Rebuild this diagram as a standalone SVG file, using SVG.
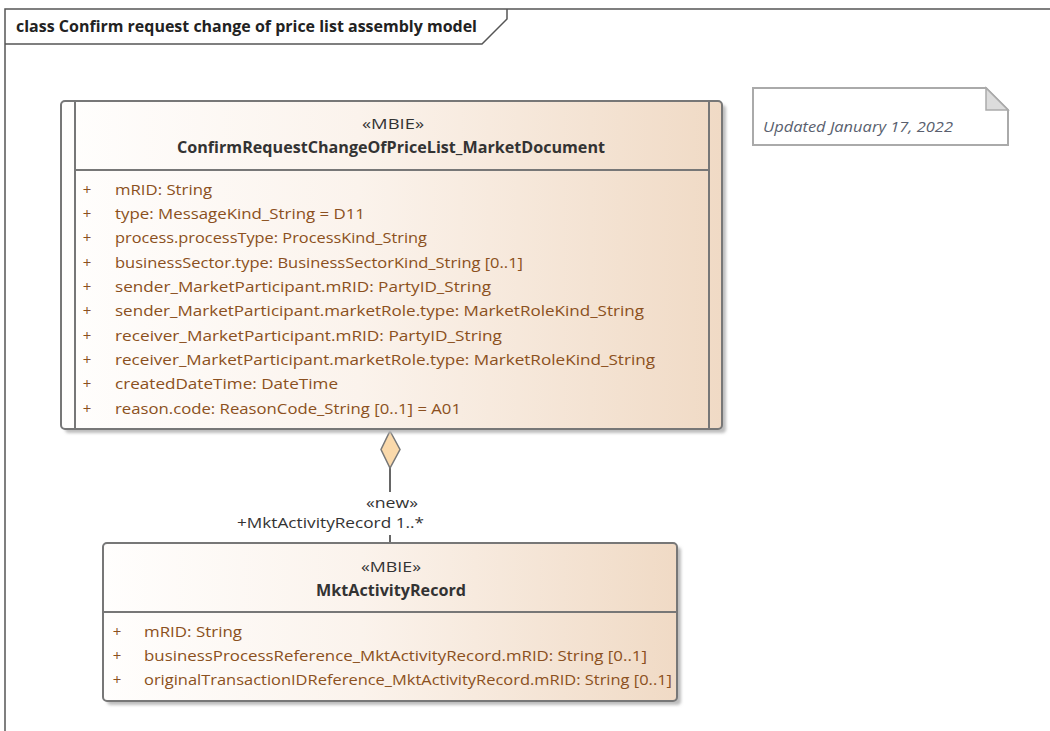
<svg xmlns="http://www.w3.org/2000/svg" width="1050" height="731" viewBox="0 0 1050 731">
<style>
text{font-family:"Open Sans","Liberation Sans",sans-serif;}
.frame{fill:none;stroke:#555;stroke-width:1.5;}
.title{font-size:15.5px;font-weight:bold;fill:#222;}
.box{stroke:#777;stroke-width:2;fill:url(#grad);}
.shadow{fill:#bdbdbd;filter:url(#blur);}
.sep{stroke:#777;stroke-width:2;}
.st{font-size:15px;fill:#333;text-anchor:middle;}
.nm{font-size:15.5px;font-weight:bold;fill:#333;text-anchor:middle;}
.pl{font-size:15px;fill:#8b5020;text-anchor:middle;}
.at{font-size:15px;fill:#8b5020;}
.conn{stroke:#666;stroke-width:2;fill:none;}
.lbl{font-size:15px;fill:#333;}
.note{fill:#fff;stroke:#aaa;stroke-width:2;}
.notet{font-size:14.5px;font-style:italic;fill:#5a5f6e;}
</style>
<defs>
<linearGradient id="grad" x1="0" y1="0" x2="1" y2="0">
<stop offset="0" stop-color="#fffefd"/>
<stop offset="0.45" stop-color="#fbf3ec"/>
<stop offset="1" stop-color="#f0dac5"/>
</linearGradient>
<filter id="blur" x="-5%" y="-5%" width="110%" height="110%"><feGaussianBlur stdDeviation="1.6"/></filter>
</defs>
<rect width="1050" height="731" fill="#fff"/>
<g id="frame">
<path class="frame" d="M5,731 V9 H1050"/>
<path class="frame" d="M5,44 H482 L507,19 V9"/>
<text class="title" x="16" y="32" textLength="461" lengthAdjust="spacingAndGlyphs">class Confirm request change of price list assembly model</text>
</g>
<g id="connectors">
<line class="conn" x1="390" y1="468" x2="390" y2="492"/>
<line class="conn" x1="390" y1="535" x2="390" y2="543"/>
<polygon points="390,431 400,449.5 390,468 381,449.5" fill="#fad9ab" stroke="#777" stroke-width="1.5"/>
<text class="lbl" x="392" y="508" text-anchor="middle" textLength="52" lengthAdjust="spacingAndGlyphs">«new»</text>
<text class="lbl" x="237" y="528" textLength="187" lengthAdjust="spacingAndGlyphs">+MktActivityRecord 1..*</text>
</g>
<g id="ConfirmRequestChangeOfPriceList_MarketDocument">
<rect class="shadow" x="65" y="105" width="661" height="328" rx="4"/>
<rect class="box" x="61" y="101" width="661" height="328" rx="4"/>
<line class="sep" x1="75" y1="101" x2="75" y2="429"/>
<line class="sep" x1="709" y1="101" x2="709" y2="429"/>
<line class="sep" x1="75" y1="170" x2="709" y2="170"/>
<text class="st" x="393" y="129" textLength="62" lengthAdjust="spacingAndGlyphs">«MBIE»</text>
<text class="nm" x="391" y="153" textLength="428" lengthAdjust="spacingAndGlyphs">ConfirmRequestChangeOfPriceList_MarketDocument</text>
<text class="pl" x="87" y="195">+</text>
<text class="pl" x="87" y="219">+</text>
<text class="pl" x="87" y="243">+</text>
<text class="pl" x="87" y="268">+</text>
<text class="pl" x="87" y="292">+</text>
<text class="pl" x="87" y="316">+</text>
<text class="pl" x="87" y="341">+</text>
<text class="pl" x="87" y="365">+</text>
<text class="pl" x="87" y="389">+</text>
<text class="pl" x="87" y="414">+</text>
<text class="at" x="115" y="195" textLength="97" lengthAdjust="spacingAndGlyphs">mRID: String</text>
<text class="at" x="115" y="219" textLength="250" lengthAdjust="spacingAndGlyphs">type: MessageKind_String = D11</text>
<text class="at" x="115" y="243" textLength="312" lengthAdjust="spacingAndGlyphs">process.processType: ProcessKind_String</text>
<text class="at" x="115" y="268" textLength="408" lengthAdjust="spacingAndGlyphs">businessSector.type: BusinessSectorKind_String [0..1]</text>
<text class="at" x="115" y="292" textLength="376" lengthAdjust="spacingAndGlyphs">sender_MarketParticipant.mRID: PartyID_String</text>
<text class="at" x="115" y="316" textLength="529" lengthAdjust="spacingAndGlyphs">sender_MarketParticipant.marketRole.type: MarketRoleKind_String</text>
<text class="at" x="115" y="341" textLength="387" lengthAdjust="spacingAndGlyphs">receiver_MarketParticipant.mRID: PartyID_String</text>
<text class="at" x="115" y="365" textLength="540" lengthAdjust="spacingAndGlyphs">receiver_MarketParticipant.marketRole.type: MarketRoleKind_String</text>
<text class="at" x="115" y="389" textLength="223" lengthAdjust="spacingAndGlyphs">createdDateTime: DateTime</text>
<text class="at" x="115" y="414" textLength="346" lengthAdjust="spacingAndGlyphs">reason.code: ReasonCode_String [0..1] = A01</text>
</g>
<g id="MktActivityRecord">
<rect class="shadow" x="107" y="547" width="574" height="158" rx="4"/>
<rect class="box" x="103" y="543" width="574" height="158" rx="4"/>
<line class="sep" x1="103" y1="612" x2="677" y2="612"/>
<text class="st" x="391" y="572" textLength="60" lengthAdjust="spacingAndGlyphs">«MBIE»</text>
<text class="nm" x="391" y="596" textLength="150" lengthAdjust="spacingAndGlyphs">MktActivityRecord</text>
<text class="pl" x="117" y="637">+</text>
<text class="pl" x="117" y="661">+</text>
<text class="pl" x="117" y="685">+</text>
<text class="at" x="144" y="637" textLength="98" lengthAdjust="spacingAndGlyphs">mRID: String</text>
<text class="at" x="144" y="661" textLength="503" lengthAdjust="spacingAndGlyphs">businessProcessReference_MktActivityRecord.mRID: String [0..1]</text>
<text class="at" x="144" y="685" textLength="528" lengthAdjust="spacingAndGlyphs">originalTransactionIDReference_MktActivityRecord.mRID: String [0..1]</text>
</g>
<g id="note">
<polygon class="note" points="753,88 986,88 1008,110 1008,145 753,145"/>
<polygon points="986,88 986,110 1008,110" fill="#dcdcdc" stroke="#aaa" stroke-width="1.5"/>
<text class="notet" x="763" y="132" textLength="190" lengthAdjust="spacingAndGlyphs">Updated January 17, 2022</text>
</g>
</svg>
